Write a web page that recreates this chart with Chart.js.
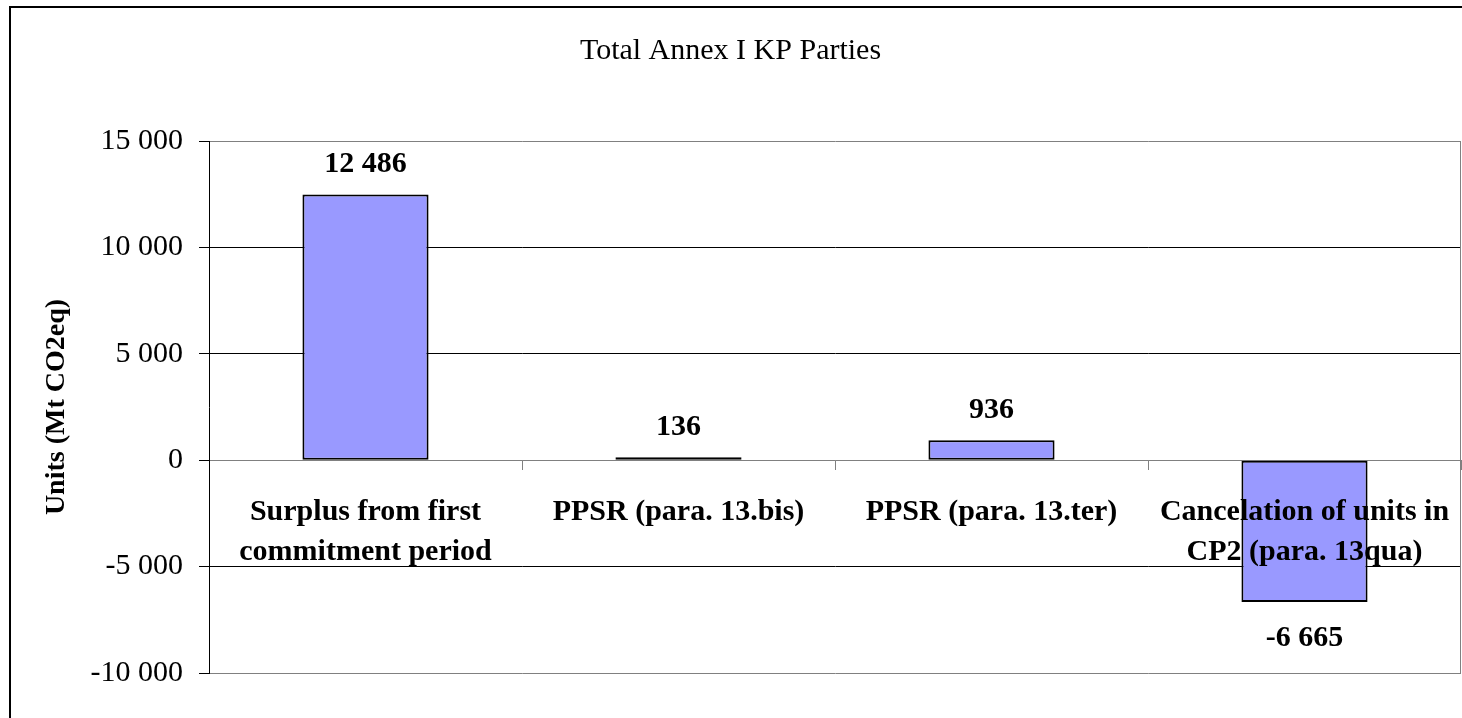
<!DOCTYPE html>
<html>
<head>
<meta charset="utf-8">
<script src="https://cdn.jsdelivr.net/npm/chart.js@4/dist/chart.umd.min.js"></script>
<style>
    html, body { margin: 0; padding: 0; background: #fff; }
    #wrap { width: 1462px; height: 718px; }
</style>
</head>
<body>
<div id="wrap"><canvas id="annexChart"></canvas></div>
<script>
var categories = [
    ['Surplus from first', 'commitment period'],
    'PPSR (para. 13.bis)',
    'PPSR (para. 13.ter)',
    ['Cancelation of units in', 'CP2 (para. 13qua)']
];
var units = [12486, 136, 936, -6665];
var yTicks = [-10000, -5000, 0, 5000, 10000, 15000];

var serif = "'Liberation Serif', 'Times New Roman', serif";

function fmt(v) {
    var s = String(Math.abs(v)).replace(/\B(?=(\d{3})+(?!\d))/g, ' ');
    return (v < 0 ? '-' : '') + s;
}

// outer frame + right edge of plot area
var framePlugin = {
    id: 'frame',
    beforeDraw: function (chart) {
        var c = chart.ctx;
        c.save();
        c.fillStyle = '#fff';
        c.fillRect(0, 0, chart.width, chart.height);
        c.strokeStyle = '#000';
        c.lineWidth = 2;
        c.strokeRect(10, 7, 3000, 3000);
        c.restore();
    },
    beforeDatasetsDraw: function (chart) {
        var a = chart.chartArea;
        var c = chart.ctx;
        c.save();
        c.strokeStyle = '#808080';
        c.lineWidth = 1;
        c.beginPath();
        c.moveTo(a.right - 0.5, a.top);
        c.lineTo(a.right - 0.5, a.bottom);
        c.stroke();
        c.restore();
    }
};

// value labels above / below each bar
var valueLabels = {
    id: 'valueLabels',
    afterDatasetsDraw: function (chart) {
        var c = chart.ctx;
        var meta = chart.getDatasetMeta(0);
        c.save();
        c.font = 'bold 30px ' + serif;
        c.fillStyle = '#000';
        c.textAlign = 'center';
        c.textBaseline = 'middle';
        meta.data.forEach(function (bar, i) {
            var v = units[i];
            var y = v >= 0 ? bar.y - 30 : bar.y + 36;
            c.fillText(fmt(v), bar.x, y);
        });
        c.restore();
    }
};

new Chart(document.getElementById('annexChart'), {
    type: 'bar',
    data: {
        labels: categories,
        datasets: [{
            data: units,
            backgroundColor: '#9999FF',
            borderColor: '#000',
            borderWidth: 2,
            borderSkipped: false,
            barPercentage: 0.403,
            categoryPercentage: 1
        }]
    },
    options: {
        responsive: true,
        maintainAspectRatio: false,
        animation: false,
        layout: { padding: { left: 0, right: 1, top: 0, bottom: 45 } },
        plugins: {
            legend: { display: false },
            tooltip: { enabled: false },
            title: {
                display: true,
                text: 'Total Annex I KP Parties',
                color: '#000',
                font: { family: serif, size: 30, weight: 'normal' },
                padding: { top: 33, bottom: 72 }
            }
        },
        scales: {
            x: {
                position: { y: 0 },
                offset: true,
                afterFit: function (scale) {
                    scale.paddingLeft = 0;
                    scale.paddingRight = 0;
                },
                grid: {
                    offset: true,
                    drawOnChartArea: false,
                    tickLength: 9,
                    color: '#808080'
                },
                border: { color: '#808080', width: 1 },
                ticks: {
                    z: 1,
                    color: '#000',
                    padding: 23,
                    autoSkip: false,
                    maxRotation: 0,
                    minRotation: 0,
                    font: { family: serif, size: 30, weight: 'bold', lineHeight: 1.33 }
                }
            },
            y: {
                min: yTicks[0],
                max: yTicks[yTicks.length - 1],
                afterBuildTicks: function (scale) {
                    scale.ticks = yTicks.map(function (v) { return { value: v }; });
                },
                afterFit: function (scale) {
                    scale.width = 209;
                },
                grid: {
                    tickLength: 10,
                    tickColor: '#000',
                    color: function (ctx) {
                        var v = ctx.tick && ctx.tick.value;
                        if (v === yTicks[0] || v === yTicks[yTicks.length - 1] || v === 0) return '#808080';
                        return '#000';
                    }
                },
                border: { color: '#000', width: 1 },
                ticks: {
                    color: '#000',
                    padding: 16,
                    font: { family: serif, size: 30 },
                    callback: function (v) { return fmt(v); }
                },
                title: {
                    display: true,
                    text: 'Units (Mt CO2eq)',
                    color: '#000',
                    font: { family: serif, size: 28, weight: 'bold' },
                    padding: { top: 40, bottom: 0 }
                }
            }
        }
    },
    plugins: [framePlugin, valueLabels]
});
</script>
</body>
</html>
